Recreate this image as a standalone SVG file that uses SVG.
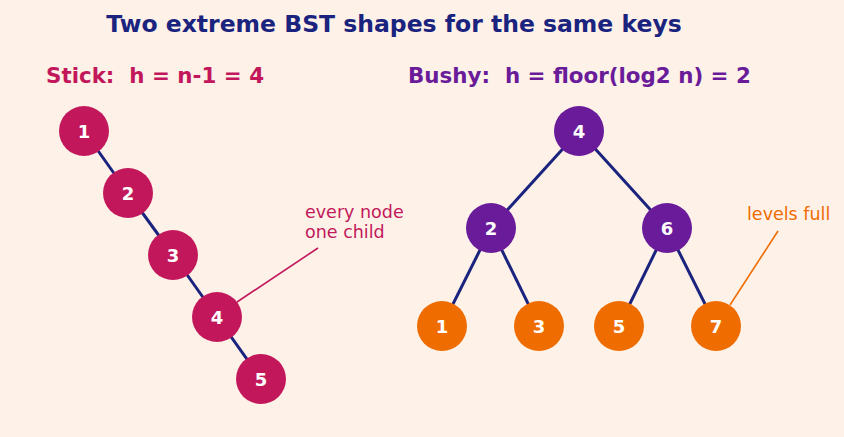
<svg xmlns="http://www.w3.org/2000/svg" width="844" height="437" viewBox="0 0 844 437">
<style>
.bg{fill:#fdf1e8}
.edge{stroke:#1a237e;stroke-width:3;fill:none}
.n text{font-family:"DejaVu Sans",sans-serif;font-weight:bold;font-size:18px;fill:#ffffff;text-anchor:middle}
.stick circle{fill:#c2185b}
.inner circle{fill:#6a1b9a}
.leaf circle{fill:#ef6c00}
.title{font-family:"DejaVu Sans",sans-serif;font-weight:bold;font-size:23.5px;fill:#1a237e;text-anchor:middle}
.sub{font-family:"DejaVu Sans",sans-serif;font-weight:bold;font-size:21.4px;white-space:pre}
.note{font-family:"DejaVu Sans",sans-serif;font-size:17.5px}
</style>
<rect class="bg" x="0" y="0" width="844" height="437"/>
<text class="title" x="394" y="32">Two extreme BST shapes for the same keys</text>
<text class="sub" x="46" y="83" fill="#c2185b" xml:space="preserve">Stick:  h = n-1 = 4</text>
<text class="sub" x="408" y="83" fill="#6a1b9a" xml:space="preserve">Bushy:  h = floor(log2 n) = 2</text>
<g id="connectors">
<line class="edge" x1="84" y1="131" x2="128" y2="193"/>
<line class="edge" x1="128" y1="193" x2="173" y2="255"/>
<line class="edge" x1="173" y1="255" x2="217" y2="317"/>
<line class="edge" x1="217" y1="317" x2="261" y2="379"/>
<line class="edge" x1="579" y1="131" x2="491" y2="228"/>
<line class="edge" x1="579" y1="131" x2="667" y2="228"/>
<line class="edge" x1="491" y1="228" x2="442" y2="326"/>
<line class="edge" x1="491" y1="228" x2="539" y2="326"/>
<line class="edge" x1="667" y1="228" x2="619" y2="326"/>
<line class="edge" x1="667" y1="228" x2="716" y2="326"/>
<line x1="318" y1="248" x2="237" y2="302" stroke="#c2185b" stroke-width="1.6"/>
<line x1="778" y1="231" x2="730" y2="305" stroke="#ef6c00" stroke-width="1.6"/>
</g>
<g id="s1" class="n stick"><circle cx="84" cy="131" r="25"/><text x="84" y="137.5">1</text></g>
<g id="s2" class="n stick"><circle cx="128" cy="193" r="25"/><text x="128" y="199.5">2</text></g>
<g id="s3" class="n stick"><circle cx="173" cy="255" r="25"/><text x="173" y="261.5">3</text></g>
<g id="s4" class="n stick"><circle cx="217" cy="317" r="25"/><text x="217" y="323.5">4</text></g>
<g id="s5" class="n stick"><circle cx="261" cy="379" r="25"/><text x="261" y="385.5">5</text></g>
<g id="b4" class="n inner"><circle cx="579" cy="131" r="25"/><text x="579" y="137.5">4</text></g>
<g id="b2" class="n inner"><circle cx="491" cy="228" r="25"/><text x="491" y="234.5">2</text></g>
<g id="b6" class="n inner"><circle cx="667" cy="228" r="25"/><text x="667" y="234.5">6</text></g>
<g id="b1" class="n leaf"><circle cx="442" cy="326" r="25"/><text x="442" y="332.5">1</text></g>
<g id="b3" class="n leaf"><circle cx="539" cy="326" r="25"/><text x="539" y="332.5">3</text></g>
<g id="b5" class="n leaf"><circle cx="619" cy="326" r="25"/><text x="619" y="332.5">5</text></g>
<g id="b7" class="n leaf"><circle cx="716" cy="326" r="25"/><text x="716" y="332.5">7</text></g>
<g id="note-stick"><text class="note" x="305" y="218" fill="#c2185b">every node</text><text class="note" x="305" y="238" fill="#c2185b">one child</text></g>
<g id="note-bushy"><text class="note" x="747" y="220" fill="#ef6c00">levels full</text></g>
</svg>
